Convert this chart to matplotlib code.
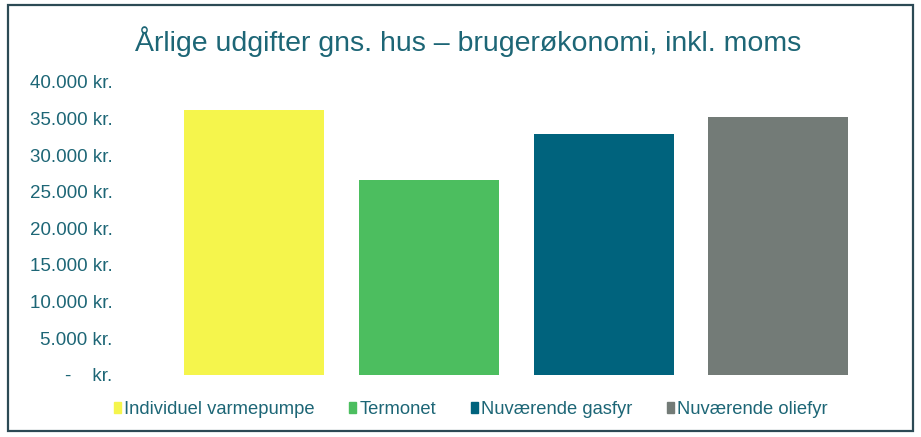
import matplotlib.pyplot as plt
from matplotlib.patches import Rectangle
from matplotlib.ticker import FuncFormatter

plt.rcParams['font.family'] = ['Liberation Sans', 'DejaVu Sans']

categories = ["Individuel varmepumpe", "Termonet", "Nuværende gasfyr", "Nuværende oliefyr"]
values = [36200, 26600, 32800, 35200]
colors = ['#f5f54c', '#4cbe5f', '#00637d', '#737b77']
yticks = [0, 5000, 10000, 15000, 20000, 25000, 30000, 35000, 40000]

text_color = '#1d6676'

fig = plt.figure(figsize=(9.21, 4.37), dpi=100)
fig.patch.set_facecolor('white')
# frame around the whole chart
fig.patches.append(Rectangle((8 / 921, 6 / 437), 905 / 921, 426 / 437,
                             transform=fig.transFigure, fill=False,
                             edgecolor='#2c4a55', lw=1.6))

ax = fig.add_axes([0.181, 0.142, 0.759, 0.671])
bars = ax.bar(range(len(categories)), values, width=0.8, color=colors, label=categories)

ax.set_xlim(-0.5, len(categories) - 0.5)
ax.set_ylim(0, 40000)
ax.set_yticks(yticks)


def kr(v, pos):
    if v == 0:
        return "-    kr."
    return f"{int(v):,} kr.".replace(",", ".")


ax.yaxis.set_major_formatter(FuncFormatter(kr))
ax.tick_params(axis='y', length=0, pad=39, labelsize=13.5, labelcolor=text_color)
for lbl in ax.get_yticklabels():
    lbl.set_horizontalalignment('right')
ax.set_xticks([])
for s in ax.spines.values():
    s.set_visible(False)

fig.text(0.508, 0.905, "Årlige udgifter gns. hus – brugerøkonomi, inkl. moms",
         ha='center', va='center', fontsize=20.5, color=text_color)

handles = [Rectangle((0, 0), 1, 1, color=c) for c in colors]
fig.legend(handles, categories, loc='center', bbox_to_anchor=(0.511, 0.062), ncol=4,
           frameon=False, fontsize=13.2, labelcolor=text_color,
           handlelength=0.4, handleheight=0.55, handletextpad=0.15, columnspacing=1.9)

plt.savefig('out.png', dpi=100)
